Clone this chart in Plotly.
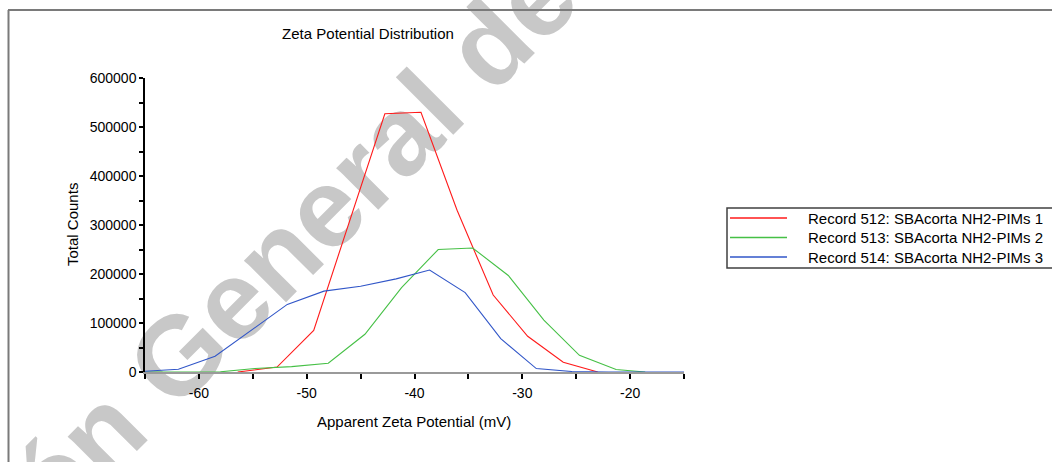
import plotly.graph_objects as go

# ---------------- data ----------------
series_names = [
    "Record 512: SBAcorta NH2-PIMs 1",
    "Record 513: SBAcorta NH2-PIMs 2",
    "Record 514: SBAcorta NH2-PIMs 3",
]

x_512 = [-56.4, -52.75, -49.35, -46.05, -42.75, -39.4, -36.05, -32.7, -29.5, -26.2, -23.0]
y_512 = [0, 10000, 85000, 305000, 527000, 530000, 330000, 157000, 73000, 20000, 0]

x_513 = [-65.0, -61.4, -58.0, -54.8, -51.4, -48.0, -44.6, -41.2, -37.8, -34.6, -31.3, -28.0, -24.7, -21.3, -18.6]
y_513 = [0, 0, 500, 7000, 11000, 18000, 77000, 172000, 250000, 253000, 197000, 106000, 34000, 5000, 0]

x_514 = [-65.0, -61.9, -58.5, -55.2, -51.8, -48.4, -45.0, -41.7, -38.6, -35.3, -32.0, -28.7, -25.4, -22.0, -18.7, -15.0]
y_514 = [1500, 5500, 32000, 85000, 138000, 165000, 175000, 190000, 208000, 162000, 68000, 7000, 1000, 0, 0, 0]

x_major_ticks = [-60, -50, -40, -30, -20]
x_tick_labels = ["-60", "-50", "-40", "-30", "-20"]
y_major_ticks = [0, 100000, 200000, 300000, 400000, 500000, 600000]
y_tick_labels = ["0", "100000", "200000", "300000", "400000", "500000", "600000"]

series_colors = ["#ff1a1a", "#46c046", "#3156c8"]

chart_title = "Zeta Potential Distribution"
x_title = "Apparent Zeta Potential (mV)"
y_title = "Total Counts"
watermark_text = "ción General de"

# ---------------- layout geometry (pixels) ----------------
W, H = 1052, 462
L, R, T, B = 145, 368, 78, 90
PW, PH = W - L - R, H - T - B


def px_x(px):
    return (px - L) / PW


def px_y(py):
    return (H - B - py) / PH


FONT = "Liberation Sans, Arial, Helvetica, sans-serif"

fig = go.Figure()
for xs, ys, name, col in zip([x_512, x_513, x_514], [y_512, y_513, y_514], series_names, series_colors):
    fig.add_trace(go.Scatter(x=xs, y=ys, mode="lines", name=name, showlegend=False,
                             line=dict(color=col, width=1.1)))

fig.update_layout(
    width=W, height=H,
    margin=dict(l=L, r=R, t=T, b=B, autoexpand=False),
    paper_bgcolor="white",
    plot_bgcolor="rgba(0,0,0,0)",
    font=dict(family=FONT, size=14, color="black"),
    showlegend=False,
    title=dict(text=chart_title, x=px_x(368), xref="paper", xanchor="center",
               y=1 - 34 / H, yref="container", yanchor="middle",
               font=dict(family=FONT, size=15, color="black")),
)

fig.update_xaxes(
    range=[-65, -15], showgrid=False, zeroline=False,
    showline=True, linecolor="#9a9a9a", linewidth=2,
    tickmode="array", tickvals=x_major_ticks, ticktext=x_tick_labels,
    ticks="outside", ticklen=5, tickwidth=1.5, tickcolor="black",
    ticklabelstandoff=2,
    minor=dict(dtick=5, tick0=-65, ticks="outside", ticklen=5, tickwidth=1.5, tickcolor="black"),
    layer="below traces",
    tickfont=dict(family=FONT, size=14, color="black"),
)
fig.update_yaxes(
    range=[0, 600000], showgrid=False, zeroline=False,
    showline=True, linecolor="black", linewidth=1.5,
    tickmode="array", tickvals=y_major_ticks, ticktext=y_tick_labels,
    ticks="outside", ticklen=4, tickwidth=1.5, tickcolor="black",
    minor=dict(dtick=50000, tick0=0, ticks="outside", ticklen=4, tickwidth=1.5, tickcolor="black"),
    tickfont=dict(family=FONT, size=14, color="black"),
)
# companion axis: the short inner half of the y ticks (original ticks straddle the axis)
fig.update_layout(yaxis2=dict(
    overlaying="y", anchor="x", side="left", range=[0, 600000],
    showgrid=False, zeroline=False, showline=False, showticklabels=False,
    tickmode="array", tickvals=y_major_ticks,
    ticks="inside", ticklen=2.5, tickwidth=1.5, tickcolor="black",
    minor=dict(dtick=50000, tick0=0, ticks="inside", ticklen=2.5, tickwidth=1.5, tickcolor="black"),
))

# axis titles as annotations for exact placement
fig.add_annotation(text=x_title, xref="paper", yref="paper", x=px_x(414), y=px_y(421),
                   showarrow=False, xanchor="center", yanchor="middle",
                   font=dict(family=FONT, size=15, color="black"))
fig.add_annotation(text=y_title, xref="paper", yref="paper", x=px_x(72), y=px_y(225),
                   showarrow=False, xanchor="center", yanchor="middle", textangle=-90,
                   font=dict(family=FONT, size=15, color="black"))

# outer frame (top and left edges)
fig.add_shape(type="line", xref="paper", yref="paper", x0=px_x(8), x1=px_x(1052),
              y0=px_y(10), y1=px_y(10), line=dict(color="#7a7a7a", width=2))
fig.add_shape(type="line", xref="paper", yref="paper", x0=px_x(8.5), x1=px_x(8.5),
              y0=px_y(10), y1=px_y(462), line=dict(color="#7a7a7a", width=2))

# legend box (drawn by hand to match the original's compact layout)
fig.add_shape(type="rect", xref="paper", yref="paper",
              x0=px_x(727), x1=px_x(1070), y0=px_y(208), y1=px_y(268),
              line=dict(color="#404040", width=1.5), fillcolor="white")
row_y = [218, 237.5, 257]
for name, col, ry in zip(series_names, series_colors, row_y):
    fig.add_shape(type="line", xref="paper", yref="paper",
                  x0=px_x(730), x1=px_x(787), y0=px_y(ry), y1=px_y(ry),
                  line=dict(color=col, width=1.3))
    fig.add_annotation(text=name, xref="paper", yref="paper", x=px_x(806), y=px_y(ry),
                       showarrow=False, xanchor="left", yanchor="middle",
                       font=dict(family=FONT, size=15, color="black"))

# watermark (below the traces)
fig.add_shape(type="rect", xref="paper", yref="paper", layer="below",
              x0=px_x(251), x1=px_x(253), y0=px_y(265), y1=px_y(267),
              line=dict(width=0), fillcolor="rgba(0,0,0,0)",
              label=dict(text=watermark_text, textangle=-45, textposition="middle center",
                         font=dict(family=FONT, size=112, color="#c8c8c8", weight="bold")))

fig.write_html("out.html")
